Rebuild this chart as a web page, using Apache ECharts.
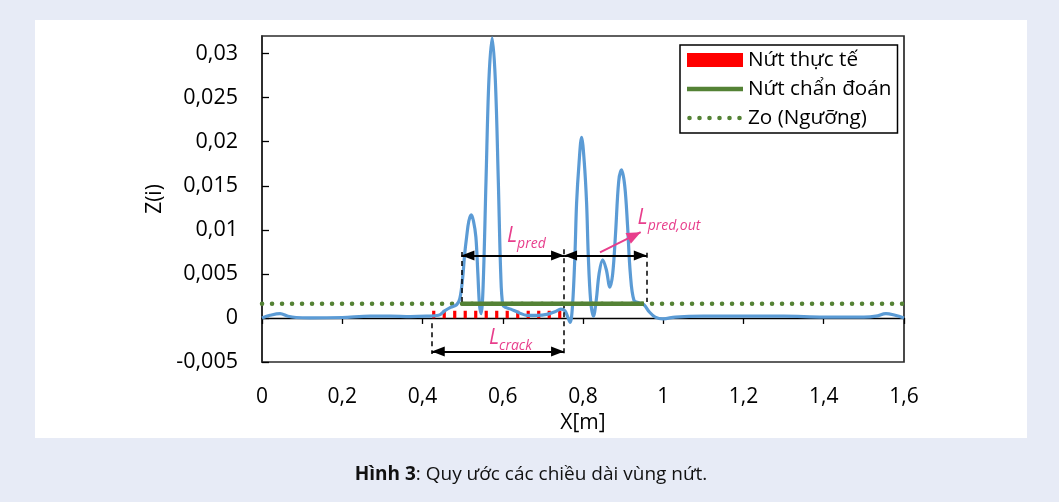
<!DOCTYPE html>
<html><head><meta charset="utf-8">
<script src="https://cdn.jsdelivr.net/npm/echarts@6/dist/echarts.min.js"></script>
<style>html,body{margin:0;padding:0;background:#e7ebf6;}#c{width:1059px;height:502px;}</style>
</head><body><div id="c"></div>
<script>
// ---- data ----
const zCurve = [
  [0,0],[0.02,0.0003],[0.045,0.0005],[0.065,0.0002],[0.085,0.00005],[0.12,0],[0.2,0.00005],
  [0.27,0.0002],[0.32,0.0002],[0.37,0.00015],[0.41,0.0002],[0.44,0.0003],[0.455,0.0008],
  [0.47,0.0012],[0.485,0.0015],[0.493,0.0022],[0.5,0.0045],[0.505,0.0072],[0.51,0.0092],
  [0.5155,0.011],[0.5215,0.0117],[0.527,0.011],[0.533,0.0092],[0.538,0.005],[0.542,0.0015],
  [0.546,0.0005],[0.551,0.0035],[0.5583,0.0156],[0.5655,0.027],[0.5736,0.0318],[0.5815,0.027],
  [0.5889,0.0156],[0.595,0.005],[0.6,0.0015],[0.607,0.0012],[0.62,0.001],[0.64,0.0006],
  [0.66,0.0003],[0.685,0.0003],[0.71,0.0004],[0.73,0.0007],[0.745,0.001],[0.755,0.0008],
  [0.762,0.0001],[0.768,-0.0005],[0.774,0.0015],[0.78,0.0073],[0.784,0.013],[0.79,0.0175],
  [0.7965,0.0205],[0.803,0.0178],[0.809,0.013],[0.813,0.0073],[0.819,0.002],[0.826,0.0002],
  [0.833,0.002],[0.84,0.005],[0.849,0.0066],[0.858,0.0055],[0.867,0.0035],[0.874,0.005],
  [0.881,0.0095],[0.889,0.0155],[0.896,0.0168],[0.904,0.015],[0.911,0.0105],[0.918,0.005],
  [0.927,0.002],[0.94,0.0017],[0.952,0.0015],[0.965,0.0007],[0.98,0.0001],[1.0,-0.0001],
  [1.03,0.0001],[1.1,0.0002],[1.2,0.0002],[1.3,0.0002],[1.4,0.0001],[1.5,0.0001],[1.53,0.0002],
  [1.555,0.0005],[1.578,0.0003],[1.6,0]
];
const crackLine = [[0.424,0.0004],[0.753,0.0004]];      // Nứt thực tế
const predLine = [[0.497,0.0016],[0.952,0.0016]];       // Nứt chẩn đoán
const thresholdLine = [[0,0.0016],[1.6,0.0016]];        // Zo (Ngưỡng)
const seriesNames = ['Nứt thực tế','Nứt chẩn đoán','Zo (Ngưỡng)'];
// annotations (data coordinates)
const dashSegs = [
  [[0.497,0.0018],[0.497,0.0075]],
  [[0.7528,0.0078],[0.7528,-0.004]],
  [[0.959,0.0074],[0.959,0.0018]],
  [[0.423,-0.0006],[0.423,-0.0041]]
];
const arrowSegs = [
  [[0.497,0.0071],[0.7528,0.0071]],
  [[0.7528,0.0071],[0.959,0.0071]],
  [[0.423,-0.0038],[0.7528,-0.0038]]
];
const pinkArrow = [[0.8424,0.00745],[0.9438,0.00973]];
const annoLabels = [
  {pos:[0.6106,0.0093], main:'L', sub:'pred'},
  {pos:[0.936,0.0113], main:'L', sub:'pred,out'},
  {pos:[0.5657,-0.0023], main:'L', sub:'crack'}
];
const caption = ['Hình 3', ': Quy ước các chiều dài vùng nứt.'];

// ---- chart ----
const FONT = 'Open Sans';
const PINK = '#e83e8c';
const GREEN = '#548235';
const comma = v => String(+v.toFixed(4)).replace('.', ',');

const mlData = [];
dashSegs.forEach(s => mlData.push([
  {coord:s[0], symbol:'none', lineStyle:{color:'#000', width:1.5, type:[5,4]}},
  {coord:s[1], symbol:'none'}
]));
arrowSegs.forEach(s => mlData.push([
  {coord:s[0], symbol:'triangle', symbolSize:[10,13], symbolOffset:[0,6.5], lineStyle:{color:'#000', width:1.8, type:'solid'}},
  {coord:s[1], symbol:'triangle', symbolSize:[10,13], symbolOffset:[0,6.5]}
]));
mlData.push([
  {coord:pinkArrow[0], symbol:'none', lineStyle:{color:PINK, width:2, type:'solid'}},
  {coord:pinkArrow[1], symbol:'triangle', symbolSize:[12,14], symbolOffset:[0,7], itemStyle:{color:PINK}}
]);

const greenIcon = 'path://M0,0L0.01,0L0,0.01Z M0,4.75L56,4.75L56,9.25L0,9.25Z M56,14L55.99,14L56,13.99Z';
let dotIcon = 'path://M0,0L0.01,0L0,0.01Z';
for (let k = 0; k < 6; k++) {
  const cx = 2.5 + 10 * k;
  dotIcon += ` M${cx-2.3},7A2.3,2.3 0 1,0 ${cx+2.3},7A2.3,2.3 0 1,0 ${cx-2.3},7Z`;
}
dotIcon += ' M56,14L55.99,14L56,13.99Z';

const chart = echarts.init(document.getElementById('c'), null, {renderer:'canvas'});
chart.setOption({
  animation:false,
  backgroundColor:'#e7ebf6',
  textStyle:{fontFamily:FONT},
  graphic:[
    {type:'rect', z:-100, silent:true, shape:{x:35,y:20,width:992,height:418}, style:{fill:'#ffffff'}},
    {type:'text', x:531, y:475, silent:true, style:{
      text:'{b|' + caption[0] + '}' + caption[1], fontFamily:FONT, fontSize:19, fill:'#111',
      align:'center', verticalAlign:'middle',
      rich:{b:{fontFamily:FONT, fontSize:19, fontWeight:'bold', fill:'#111'}}}}
  ],
  grid:{left:262, right:155, top:36, bottom:140, show:true, borderColor:'#2b2b2b', borderWidth:1.7, backgroundColor:'#fff'},
  legend:{
    left:680, top:45, orient:'vertical', padding:[4,6,4,7], itemGap:7, itemWidth:56, itemHeight:14,
    borderColor:'#000', borderWidth:1.5, backgroundColor:'#fff', selectedMode:false,
    textStyle:{fontFamily:FONT, fontSize:20.7, color:'#000', lineHeight:22},
    data:[
      {name:seriesNames[0], icon:'rect', itemStyle:{color:'#ff0000', borderWidth:0}},
      {name:seriesNames[1], icon:greenIcon, itemStyle:{color:GREEN, borderWidth:0}},
      {name:seriesNames[2], icon:dotIcon, itemStyle:{color:GREEN, borderWidth:0}}
    ]
  },
  xAxis:[
    {type:'value', min:0, max:1.6, interval:0.2, position:'bottom',
     name:'X[m]', nameLocation:'middle', nameGap:45,
     nameTextStyle:{fontFamily:FONT, fontSize:21, color:'#000'},
     axisLine:{show:false, onZero:false}, axisTick:{show:false}, splitLine:{show:false},
     axisLabel:{fontFamily:FONT, fontSize:21, color:'#000', margin:25, formatter:comma, showMinLabel:true, showMaxLabel:true}},
    {type:'value', min:0, max:1.6, interval:0.2, position:'bottom',
     axisLine:{show:true, onZero:true, lineStyle:{color:'#000', width:1.3}},
     axisTick:{show:true, length:6, lineStyle:{color:'#000', width:1.3}},
     axisLabel:{show:false}, splitLine:{show:false}}
  ],
  yAxis:{
    type:'value', min:-0.005, max:0.032, interval:0.005,
    name:'Z(i)', nameLocation:'middle', nameGap:93, nameRotate:90,
    nameTextStyle:{fontFamily:FONT, fontSize:21, color:'#000'},
    axisLine:{show:true, onZero:false, lineStyle:{color:'#2b2b2b', width:1.7}},
    axisTick:{show:true, inside:true, length:7, lineStyle:{color:'#000', width:1.3}},
    splitLine:{show:false},
    axisLabel:{fontFamily:FONT, fontSize:21.5, color:'#000', margin:24, formatter:comma, showMaxLabel:false}
  },
  series:[
    {name:seriesNames[2], type:'line', data:thresholdLine, symbol:'none', z:2, silent:true,
     lineStyle:{color:GREEN, width:4.5, type:[0.1,9.9], cap:'round'}, itemStyle:{color:GREEN}},
    {name:seriesNames[0], type:'line', data:crackLine, symbol:'none', z:3, silent:true,
     lineStyle:{color:'#ff0000', width:7.5, type:[3.2,7.3], cap:'butt'}, itemStyle:{color:'#ff0000'}},
    {name:'Z', type:'line', data:zCurve, symbol:'none', smooth:0.35, z:4, silent:true,
     lineStyle:{color:'#5b9bd5', width:3.2}, itemStyle:{color:'#5b9bd5'},
     markLine:{silent:true, symbol:'none', label:{show:false}, animation:false, data:mlData},
     markPoint:{silent:true, symbol:'circle', symbolSize:0, animation:false,
       label:{show:true, position:'right', distance:0,
         rich:{L:{fontFamily:FONT, fontStyle:'italic', fontSize:21, color:PINK, lineHeight:30},
               s:{fontFamily:FONT, fontStyle:'italic', fontSize:14, color:PINK, lineHeight:12, verticalAlign:'bottom'}}},
       data:annoLabels.map(a => ({coord:a.pos, label:{formatter:'{L|' + a.main + '}{s|' + a.sub + '}'}}))}},
    {name:seriesNames[1], type:'line', data:predLine, symbol:'none', z:5, silent:true,
     lineStyle:{color:GREEN, width:4.5, cap:'butt'}, itemStyle:{color:GREEN}}
  ]
});
</script></body></html>
